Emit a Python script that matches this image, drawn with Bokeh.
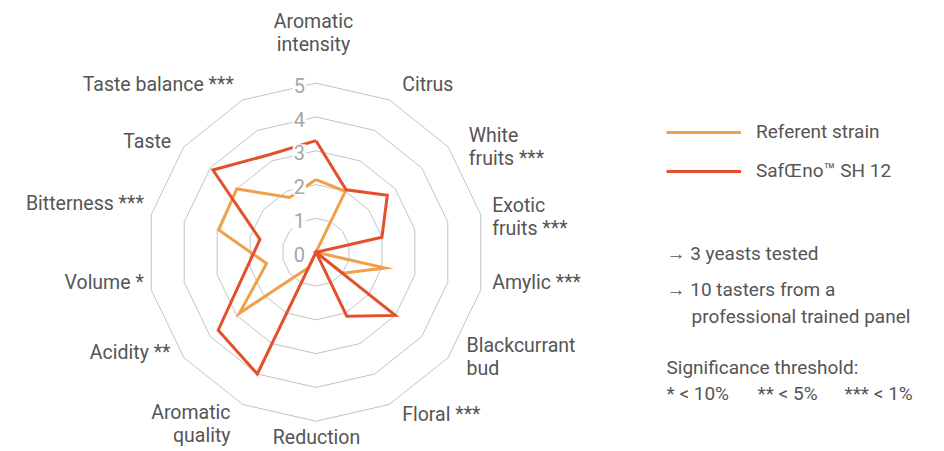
import numpy as np
from bokeh.plotting import figure
from bokeh.models import Range1d, Legend, LegendItem
from bokeh.core.properties import value
from bokeh.embed import file_html
from bokeh.resources import INLINE

# ---------------- data ----------------
categories = ["Aromatic\nintensity", "Citrus", "White\nfruits ***", "Exotic\nfruits ***",
              "Amylic ***", "Blackcurrant\nbud", "Floral ***", "Reduction",
              "Aromatic\nquality", "Acidity **", "Volume *", "Bitterness ***",
              "Taste", "Taste balance ***"]
referent = [2.15, 2.0, 0.0, 0.0, 2.1, 1.0, 0.0, 0.0, 0.5, 2.9, 1.5, 2.95, 3.0, 1.8]
sh12 = [3.3, 2.05, 2.7, 2.0, 0.0, 3.0, 2.1, 0.0, 4.0, 3.7, 2.1, 1.7, 3.9, 3.2]
series_names = ["Referent strain", "SafŒno™ SH 12"]
ring_values = [1, 2, 3, 4, 5]
tick_values = [0, 1, 2, 3, 4, 5]
tick_labels = ["0", "1", "2", "3", "4", "5"]
notes = ["→ 3 yeasts tested", "→ 10 tasters from a", "professional trained panel",
         "Significance threshold:", "* < 10%", "** < 5%", "*** < 1%"]

# ---------------- layout / style ----------------
W, H = 944, 451
CX, CY, U = 315.5, 251.7, 33.8   # page-pixel centre of radar and pixels per unit


def dx(px):
    return (px - CX) / U


def dy(py):
    return (CY - py) / U


FONT = value("Roboto")
TXT = "#555555"
ORANGE = "#F0A04A"
RED = "#E2502C"
GRID = "#C3C3C3"

p = figure(width=W, height=H, output_backend="svg", toolbar_location=None,
           x_range=Range1d(dx(0), dx(W)), y_range=Range1d(dy(H), dy(0)),
           min_border=0, x_axis_location=None, y_axis_location=None,
           outline_line_color=None)
p.grid.visible = False

n = len(categories)
theta = np.arange(n) * 2 * np.pi / n
sin_t = np.append(np.sin(theta), np.sin(theta[0]))
cos_t = np.append(np.cos(theta), np.cos(theta[0]))

# rings
for r in ring_values:
    p.line(r * sin_t, r * cos_t, line_color=GRID, line_width=1)


# series
def closed(vals):
    v = np.append(np.array(vals, dtype=float), vals[0])
    return v * sin_t, v * cos_t


xr, yr = closed(referent)
r_ref = p.line(xr, yr, line_color=ORANGE, line_width=3, line_join="miter")
xs, ys = closed(sh12)
r_sh = p.line(xs, ys, line_color=RED, line_width=3, line_join="miter")

# radial tick labels
p.text(x=[dx(305.5)] * len(tick_values), y=[v - 2.0 / U for v in tick_values],
       text=tick_labels, text_font=FONT, text_font_size="20px", text_color="#A6A6A6",
       text_align="right", text_baseline="middle",
       background_fill_color="white", padding=1)

# category labels (page-pixel anchors)
label_pos = [(313, 32, "center"), (401.7, 84, "left"), (468.3, 146, "left"),
             (491.7, 216.7, "left"), (491.7, 281.7, "left"), (466, 356, "left"),
             (401.7, 414, "left"), (316, 437, "center"), (230, 423, "right"),
             (170, 351.7, "right"), (143.3, 281.7, "right"), (143.3, 203.3, "right"),
             (170.7, 140.7, "right"), (233.3, 84, "right")]
for lab, (px, py, al) in zip(categories, label_pos):
    p.text(x=[dx(px)], y=[dy(py)], text=[lab], text_font=FONT, text_font_size="19.5px",
           text_color=TXT, text_align=al, text_baseline="middle", text_line_height=1.0)

# notes
note_pos = [(666, 253), (666, 289), (691, 315.5), (666, 367), (666, 393), (757, 393), (844, 393)]
for t, (px, py) in zip(notes, note_pos):
    p.text(x=[dx(px)], y=[dy(py)], text=[t], text_font=FONT, text_font_size="19px",
           text_color=TXT, text_align="left", text_baseline="middle")

# legend
legend = Legend(items=[LegendItem(label=series_names[0], renderers=[r_ref]),
                       LegendItem(label=series_names[1], renderers=[r_sh])],
                location=(666, 269), orientation="vertical",
                glyph_width=75, glyph_height=22, label_standoff=15, spacing=16,
                padding=0, margin=0, border_line_color=None, background_fill_alpha=0,
                label_text_font="Roboto", label_text_font_size="19px",
                label_text_color=TXT, label_height=22)
p.add_layout(legend, "center")

open("out.html", "w").write(file_html(p, INLINE))
